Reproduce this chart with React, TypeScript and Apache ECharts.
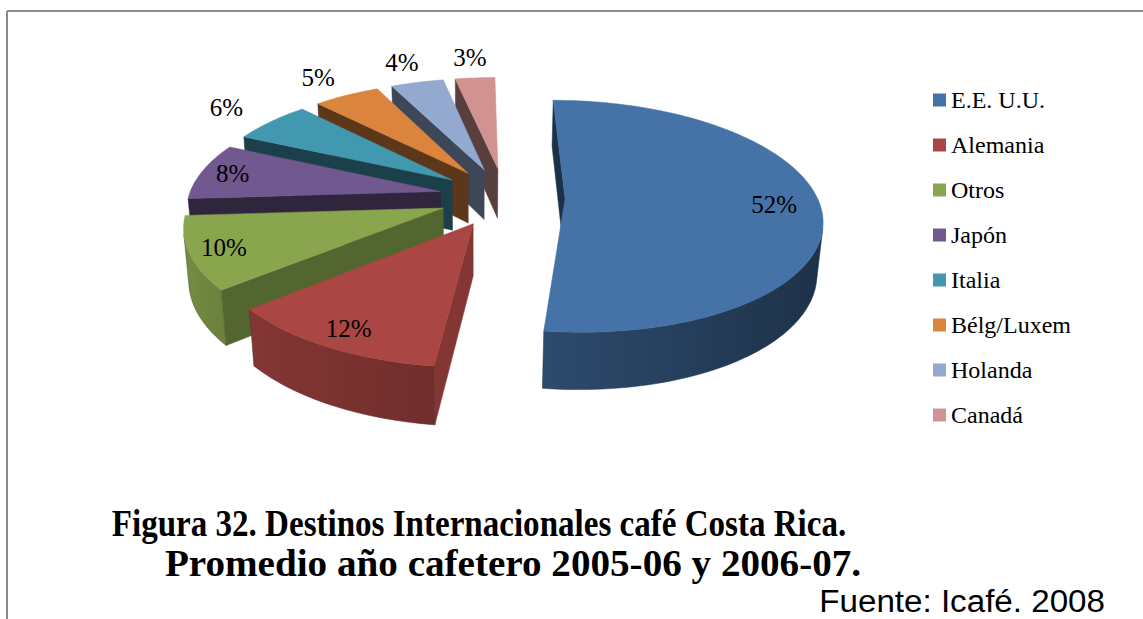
import { useEffect, useRef } from "react";
import * as echarts from "echarts";

// Coffee export destinations, share of volume (%)
const destinations = ["E.E. U.U.", "Alemania", "Otros", "Japón", "Italia", "Bélg/Luxem", "Holanda", "Canadá"];
const shares = [52, 12, 10, 8, 6, 5, 4, 3];
const palette = ["#4572A7", "#AA4643", "#89A54E", "#71588F", "#4198AF", "#DB843D", "#93A9CF", "#D19392"];
// how far each slice is pulled out of the pie
const explodeDistance = [60, 66, 66, 66, 66, 66, 66, 66];

const titleLines = [
  "Figura 32. Destinos Internacionales café Costa Rica.",
  "Promedio año cafetero 2005-06 y 2006-07.",
];
const sourceNote = "Fuente: Icafé. 2008";

// 3-D view of the pie: centre, radius, thickness, tilt, perspective distance
// and horizontal offset of the vanishing point from the centre
const VIEW = { cx: 505, cy: 197, radius: 252, thickness: 58, tilt: 26.6, focal: 1490, vanishShift: 30 };
const TILT = (VIEW.tilt * Math.PI) / 180;
const CAM = { x: -VIEW.vanishShift, y: VIEW.focal * Math.sin(TILT), z: -VIEW.focal * Math.cos(TILT) };

function project(X: number, Y: number, Z: number): number[] {
  const yp = Z * Math.sin(TILT) + Y * Math.cos(TILT);
  const zp = Z * Math.cos(TILT) - Y * Math.sin(TILT);
  const s = VIEW.focal / (VIEW.focal + zp);
  const vx = VIEW.cx - VIEW.vanishShift;
  return [vx + (VIEW.vanishShift + X) * s, VIEW.cy - yp * s];
}

function shade(hex: string, f: number): string {
  const n = parseInt(hex.slice(1), 16);
  const r = Math.round(((n >> 16) & 255) * f);
  const g = Math.round(((n >> 8) & 255) * f);
  const b = Math.round((n & 255) * f);
  return `rgb(${Math.min(255, r)},${Math.min(255, g)},${Math.min(255, b)})`;
}

const rad = (d: number) => (d * Math.PI) / 180;
const total = shares.reduce((a, b) => a + b, 0);
const startAngle: number[] = [];
const endAngle: number[] = [];
{
  let acc = 0;
  shares.forEach((v) => {
    startAngle.push((acc / total) * 360);
    acc += v;
    endAngle.push((acc / total) * 360);
  });
}

function explodeOffset(i: number) {
  const mid = rad((startAngle[i] + endAngle[i]) / 2);
  return { ex: explodeDistance[i] * Math.sin(mid), ez: explodeDistance[i] * Math.cos(mid) };
}

// brightness of the curved rim, by outward direction (degrees clockwise from the back)
function rimLight(deg: number): number {
  const d = ((deg % 360) + 360) % 360;
  const t = Math.max(0, Math.min(1, (d - 90) / 180));
  return 0.4 + 0.48 * t;
}
// brightness of the flat cut faces
function cutLight(deg: number): number {
  const d = ((deg % 360) + 360) % 360;
  if (d >= 90 && d < 150) return 0.8 - ((d - 90) / 60) * 0.22;
  return 0.42;
}

function facesCamera(nx: number, nz: number, px: number, pz: number): boolean {
  return nx * (CAM.x - px) + nz * (CAM.z - pz) > 0;
}

function sliceGroup(i: number) {
  const { ex, ez } = explodeOffset(i);
  const R = VIEW.radius;
  const H = -VIEW.thickness;
  const a0 = startAngle[i];
  const a1 = endAngle[i];
  const steps = Math.max(3, Math.ceil((a1 - a0) / 1.5));
  const thetas: number[] = [];
  for (let k = 0; k <= steps; k++) thetas.push(a0 + ((a1 - a0) * k) / steps);
  const topPts = thetas.map((t) => project(ex + R * Math.sin(rad(t)), 0, ez + R * Math.cos(rad(t))));
  const botPts = thetas.map((t) => project(ex + R * Math.sin(rad(t)), H, ez + R * Math.cos(rad(t))));
  const apexTop = project(ex, 0, ez);
  const apexBot = project(ex, H, ez);
  const base = palette[i];
  const children: any[] = [];
  const poly = (points: number[][], fill: any) => ({
    type: "polygon",
    shape: { points },
    style: { fill, stroke: typeof fill === "string" ? fill : shade(base, 0.5), lineWidth: 0.5 },
  });

  // flat cut faces
  [
    { t: a0, n: a0 - 90 },
    { t: a1, n: a1 + 90 },
  ].forEach(({ t, n }) => {
    const mx = ex + (R / 2) * Math.sin(rad(t));
    const mz = ez + (R / 2) * Math.cos(rad(t));
    if (facesCamera(Math.sin(rad(n)), Math.cos(rad(n)), mx, mz)) {
      const oT = project(ex + R * Math.sin(rad(t)), 0, ez + R * Math.cos(rad(t)));
      const oB = project(ex + R * Math.sin(rad(t)), H, ez + R * Math.cos(rad(t)));
      children.push(poly([apexTop, oT, oB, apexBot], shade(base, cutLight(n))));
    }
  });

  // curved rim, split into the runs that face the camera
  let run: number[] = [];
  const flush = () => {
    if (run.length > 0) {
      const first = run[0];
      const last = run[run.length - 1] + 1;
      const pts: number[][] = [];
      for (let k = first; k <= last; k++) pts.push(topPts[k]);
      for (let k = last; k >= first; k--) pts.push(botPts[k]);
      const cA = shade(base, rimLight(thetas[first]));
      const cB = shade(base, rimLight(thetas[last]));
      const leftFirst = topPts[first][0] < topPts[last][0];
      const grad = new echarts.graphic.LinearGradient(0, 0, 1, 0, [
        { offset: 0, color: leftFirst ? cA : cB },
        { offset: 1, color: leftFirst ? cB : cA },
      ]);
      children.push(poly(pts, grad));
    }
    run = [];
  };
  for (let k = 0; k < steps; k++) {
    const tm = rad((thetas[k] + thetas[k + 1]) / 2);
    const vis = facesCamera(Math.sin(tm), Math.cos(tm), ex + R * Math.sin(tm), ez + R * Math.cos(tm));
    if (vis) run.push(k);
    else flush();
  }
  flush();

  // top face
  children.push(poly([apexTop, ...topPts], base));
  return { type: "group", children };
}

function labelGroup() {
  const children: any[] = shares.map((v, i) => {
    const { ex, ez } = explodeOffset(i);
    const mid = rad((startAngle[i] + endAngle[i]) / 2);
    const r = v >= 8 ? VIEW.radius * (v > 50 ? 0.82 : 0.87) : VIEW.radius * 1.27;
    const [x, y] = project(ex + r * Math.sin(mid), 0, ez + r * Math.cos(mid));
    return {
      type: "text",
      x,
      y,
      style: {
        text: `${v}%`,
        fill: "#000",
        font: '25px "Liberation Serif"',
        align: "center",
        verticalAlign: "middle",
      },
    };
  });
  return { type: "group", children };
}

function depthRank(): number[] {
  const depth = shares.map((_, i) => {
    const { ez } = explodeOffset(i);
    const mid = rad((startAngle[i] + endAngle[i]) / 2);
    return ez + VIEW.radius * 0.5 * Math.cos(mid);
  });
  const order = depth.map((d, i) => ({ d, i })).sort((a, b) => b.d - a.d);
  const rank: number[] = [];
  order.forEach((o, k) => (rank[o.i] = k));
  return rank;
}

function buildOption() {
  const rank = depthRank();
  const sliceSeries = destinations.map((name, i) => ({
    type: "custom",
    name,
    coordinateSystem: "none",
    silent: true,
    z: 10 + rank[i],
    itemStyle: { color: palette[i] },
    data: [[shares[i]]],
    renderItem: () => sliceGroup(i),
  }));
  const labelSeries = {
    type: "custom",
    name: "labels",
    coordinateSystem: "none",
    silent: true,
    z: 50,
    data: [[0]],
    renderItem: () => labelGroup(),
  };
  return {
    animation: false,
    backgroundColor: "#ffffff",
    legend: {
      data: destinations,
      orient: "vertical",
      left: 928,
      top: 83,
      itemWidth: 13,
      itemHeight: 13,
      itemGap: 21,
      icon: "rect",
      selectedMode: false,
      textStyle: { fontFamily: "Liberation Serif", fontSize: 24, color: "#000" },
    },
    graphic: [
      { type: "line", shape: { x1: 7, y1: 11, x2: 1143, y2: 11 }, style: { stroke: "#8c8c8c", lineWidth: 2 } },
      { type: "line", shape: { x1: 7, y1: 11, x2: 7, y2: 619 }, style: { stroke: "#8c8c8c", lineWidth: 2 } },
      {
        type: "text",
        x: 479,
        y: 523,
        scaleX: 0.87,
        style: {
          text: titleLines[0],
          fill: "#000",
          font: 'bold 38px "Liberation Serif"',
          align: "center",
          verticalAlign: "middle",
        },
      },
      {
        type: "text",
        x: 513,
        y: 563,
        scaleX: 1.03,
        style: {
          text: titleLines[1],
          fill: "#000",
          font: 'bold 38px "Liberation Serif"',
          align: "center",
          verticalAlign: "middle",
        },
      },
      {
        type: "text",
        x: 1105,
        y: 601,
        scaleX: 1.07,
        style: {
          text: sourceNote,
          fill: "#000",
          font: '31px "Liberation Sans"',
          align: "right",
          verticalAlign: "middle",
        },
      },
    ],
    series: [...sliceSeries, labelSeries],
  };
}

export default function App() {
  const ref = useRef<HTMLDivElement>(null);
  useEffect(() => {
    if (!ref.current) return;
    const chart = echarts.init(ref.current, undefined, { renderer: "svg" });
    chart.setOption(buildOption() as any);
    return () => chart.dispose();
  }, []);
  return (
    <div
      ref={ref}
      style={{ position: "fixed", left: 0, top: 0, width: 1143, height: 619, background: "#fff" }}
    />
  );
}
